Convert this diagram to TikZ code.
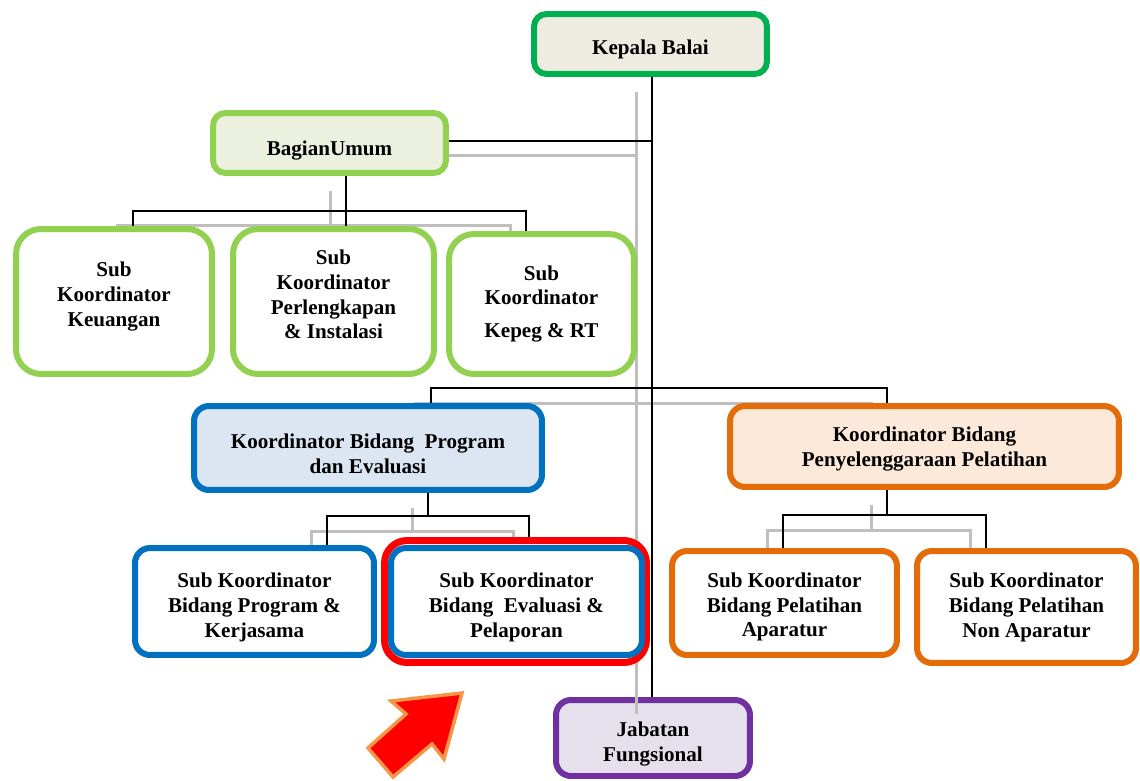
\documentclass[tikz,border=0pt]{standalone}
\usepackage{fontspec}
\setmainfont{Liberation Serif}
\usetikzlibrary{backgrounds}

\definecolor{kgreen}{HTML}{00B050}
\definecolor{lgreen}{HTML}{92D050}
\definecolor{kbeige}{HTML}{EEECE1}
\definecolor{ubeige}{HTML}{EBF1DE}
\definecolor{pblue}{HTML}{0070C0}
\definecolor{pfill}{HTML}{DCE6F2}
\definecolor{lorange}{HTML}{E36C09}
\definecolor{ofill}{HTML}{FDE9D9}
\definecolor{jpurple}{HTML}{7030A0}
\definecolor{jfill}{HTML}{E5E0EC}
\definecolor{lgray}{HTML}{BFBFBF}
\definecolor{aorange}{HTML}{F79646}

% extra room above the first line of a box
\newcommand{\padtop}[1]{\rule{0pt}{#1}}

\begin{document}
\begin{tikzpicture}[
    x=0.02cm, y=-0.02cm,
    box/.style={draw, line width=0.12cm, rounded corners=0.3cm, align=center, inner sep=0pt,
      font=\bfseries\fontsize{12}{14.2}\selectfont},
    subbox/.style={box, draw=lgreen, fill=white, rounded corners=0.5cm},
    lift/.style={execute at end node={\rule[-8.3pt]{0pt}{1pt}}},
    conn/.style={draw=black, line width=0.04cm},
    ghost/.style={draw=lgray, line width=0.06cm, transform canvas={xshift=-0.32cm, yshift=-0.3cm}}
  ]
    \useasboundingbox (0,0) rectangle (1140,781);

    % top
    \node[box, draw=kgreen, fill=kbeige, rounded corners=0.25cm, minimum width=4.66cm, minimum height=1.2cm] (kepala) at (650.5,44) {\padtop{14pt}Kepala Balai};
    \node[box, draw=lgreen, fill=ubeige, rounded corners=0.25cm, minimum width=4.66cm, minimum height=1.2cm] (bagian) at (329.5,143) {\padtop{17pt}BagianUmum};

    % bagian umum
    \node[subbox, lift, minimum width=3.92cm, minimum height=2.9cm] (keu) at (114,301.5) {Sub\\Koordinator\\Keuangan};
    \node[subbox, lift, minimum width=4.02cm, minimum height=2.9cm] (perl) at (333.5,301.5) {Sub\\Koordinator\\Perlengkapan\\\& Instalasi};
    \node[subbox, minimum width=3.7cm, minimum height=2.8cm] (kepeg) at (541.5,304) {Sub\\Koordinator\\[0.16cm]Kepeg \& RT};

    % koordinator
    \node[box, draw=pblue, fill=pfill, minimum width=6.96cm, minimum height=1.68cm] (kprog) at (368,448) {\padtop{15pt}Koordinator Bidang\ \ Program\\dan Evaluasi};
    \node[box, draw=lorange, fill=ofill, minimum width=7.78cm, minimum height=1.62cm] (kpel) at (924.5,446.5) {\padtop{11.7pt}Koordinator Bidang\\Penyelenggaraan Pelatihan};

    % sub koordinator
    \node[box, draw=pblue, fill=white, minimum width=4.78cm, minimum height=2.14cm] (sprog) at (254.5,601.5) {\padtop{15pt}Sub Koordinator\\Bidang Program \&\\Kerjasama};
    \node[draw=red, fill=white, line width=0.14cm, rounded corners=0.45cm, minimum width=5.24cm, minimum height=2.44cm] (mark) at (515.5,601.5) {};
    \node[box, draw=pblue, fill=white, minimum width=5.02cm, minimum height=2.14cm] (seval) at (516.5,601.5) {\padtop{15pt}Sub Koordinator\\Bidang\ \ Evaluasi \&\\Pelaporan};
    \node[box, draw=lorange, fill=white, minimum width=4.5cm, minimum height=2.08cm] (sapar) at (784.5,603) {\padtop{12.8pt}Sub Koordinator\\Bidang Pelatihan\\Aparatur};
    \node[box, draw=lorange, fill=white, minimum width=4.38cm, minimum height=2.24cm] (snon) at (1026.5,607) {Sub Koordinator\\Bidang Pelatihan\\Non Aparatur};

    \node[box, draw=jpurple, fill=jfill, minimum width=3.88cm, minimum height=1.52cm] (jab) at (653,738) {\padtop{15pt}Jabatan\\Fungsional};

    % bus points
    \coordinate (jB) at (652,141);
    \coordinate (jK) at (652,388);
    \coordinate (jU) at (346,211);
    \coordinate (uL) at (133,211);
    \coordinate (uR) at (526,211);
    \coordinate (mL) at (431,388);
    \coordinate (mR) at (887,388);
    \coordinate (pJ) at (428,516);
    \coordinate (pL) at (327,516);
    \coordinate (pR) at (529,516);
    \coordinate (lJ) at (887,515);
    \coordinate (lL) at (783,515);
    \coordinate (lR) at (986,515);

    \begin{scope}[on background layer]
      \foreach \s in {ghost, conn} {
        \draw[\s] (kepala.south -| jK) -- (jab.north -| jK);
        \draw[\s] (bagian.east |- jB) -- (jB);
        \draw[\s] (bagian.south -| jU) -- (perl.north -| jU);
        \draw[\s] (keu.north -| uL) -- (uL) -- (uR) -- (kepeg.north -| uR);
        \draw[\s] (kprog.north -| mL) -- (mL) -- (mR) -- (kpel.north -| mR);
        \draw[\s] (kprog.south -| pJ) -- (pJ);
        \draw[\s] (sprog.north -| pL) -- (pL) -- (pR) -- (seval.north -| pR);
        \draw[\s] (kpel.south -| lJ) -- (lJ);
        \draw[\s] (sapar.north -| lL) -- (lL) -- (lR) -- (snon.north -| lR);
      }
    \end{scope}
    \draw[draw=lgray, line width=0.06cm] ([xshift=-0.32cm]jab.north -| jK) -- ++(0,17);

    % pointer
    \draw[draw=aorange, fill=red, line width=0.07cm, line join=miter]
      (462,693) -- (391,701) -- (406,714) -- (368,748) -- (393,777) -- (432,744) -- (444,759) -- cycle;
\end{tikzpicture}
\end{document}
